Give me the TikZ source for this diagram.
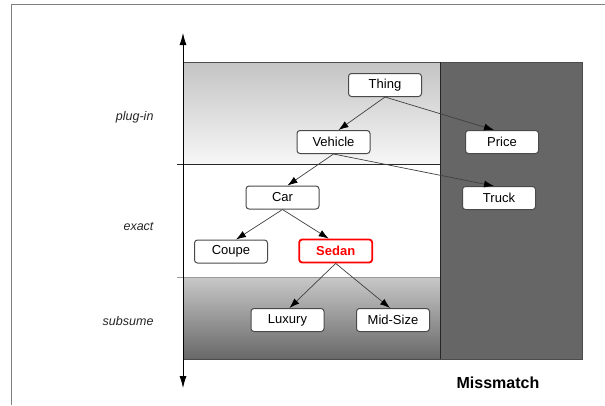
\documentclass[tikz,border=0pt]{standalone}
\usepackage{fontspec}
\setmainfont{Liberation Sans}
\usetikzlibrary{arrows.meta}
\definecolor{framegray}{HTML}{808080}
\definecolor{misgray}{HTML}{666666}
\definecolor{plugtop}{HTML}{C4C4C4}
\definecolor{plugbot}{HTML}{F7F7F7}
\definecolor{subtop}{HTML}{C8C8C8}
\definecolor{subbot}{HTML}{686868}
\definecolor{boxline}{HTML}{4A4A4A}
\definecolor{sedanred}{HTML}{FF0000}
\begin{document}
\begin{tikzpicture}[x=1pt,y=-1pt,
  concept/.style={draw=boxline,line width=1pt,fill=white,rounded corners=3pt,
    minimum width=73pt,minimum height=23pt,inner sep=0pt,
    font=\fontsize{13}{15}\selectfont},
  hilite/.style={concept,draw=sedanred,line width=1.8pt,text=sedanred,
    font=\fontsize{13}{15}\selectfont\bfseries},
  level/.style={anchor=east,font=\fontsize{12.5}{14}\selectfont\itshape,text=black!85},
  edge/.style={draw=black!75,line width=0.7pt,-{Latex[length=10pt,width=7pt,fill=black,color=black]}},
  axisarrow/.style={draw=black,line width=0.8pt,{Latex[length=12pt,width=7pt]}-{Latex[length=12pt,width=7pt]}}]
\useasboundingbox (0,0) rectangle (605,405);
% outer frame
\draw[framegray,line width=1pt] (11.5,405) -- (11.5,4.5) -- (605,4.5);
% regions
\shade[top color=plugtop,bottom color=plugbot] (183,62) rectangle (440,164.5);
\fill[white] (183,164.5) rectangle (440,277);
\shade[top color=subtop,bottom color=subbot] (183,277) rectangle (440,359);
\fill[misgray] (440,62) rectangle (582,359);
\draw[black!70,line width=0.7pt] (183,62) rectangle (582,359);
\draw[black!85,line width=0.7pt] (440,62) -- (440,359);
\draw[black!85,line width=0.9pt] (177,164.5) -- (440,164.5);
\draw[black!40,line width=0.7pt] (177,277) -- (440,277);
% axis
\coordinate (axtop) at (183,33);
\coordinate (axbot) at (183,388);
\draw[axisarrow] (axtop) -- (axbot);
% level labels
\node[level] (plugin) at (157,117) {plug-in};
\node[level] (exact) at (157,227) {exact};
\node[level] (subsume) at (157,321) {subsume};
\node[font=\fontsize{16}{18}\selectfont\bfseries] (mis) at (498,383) {Missmatch};
% concepts
\node[concept] (thing) at (385,85) {Thing};
\node[concept] (vehicle) at (333.5,142) {Vehicle};
\node[concept] (price) at (502,142) {Price};
\node[concept] (car) at (282.5,197.5) {Car};
\node[concept] (truck) at (499,198) {Truck};
\node[concept] (coupe) at (231,251.5) {Coupe};
\node[hilite] (sedan) at (335.7,251) {Sedan};
\node[concept] (luxury) at (287.5,320) {Luxury};
\node[concept] (midsize) at (393,320) {Mid-Size};
% edges
\draw[edge] (thing.south) -- ([xshift=5pt]vehicle.north);
\draw[edge] (thing.south) -- ([xshift=-8pt]price.north);
\draw[edge] (vehicle.south) -- ([xshift=5pt]car.north);
\draw[edge] (vehicle.south) -- ([xshift=-5pt]truck.north);
\draw[edge] (car.south) -- ([xshift=5pt]coupe.north);
\draw[edge] (car.south) -- ([xshift=-7pt]sedan.north);
\draw[edge] (sedan.south) -- ([xshift=2pt]luxury.north);
\draw[edge] (sedan.south) -- ([xshift=-3pt]midsize.north);
\end{tikzpicture}
\end{document}
